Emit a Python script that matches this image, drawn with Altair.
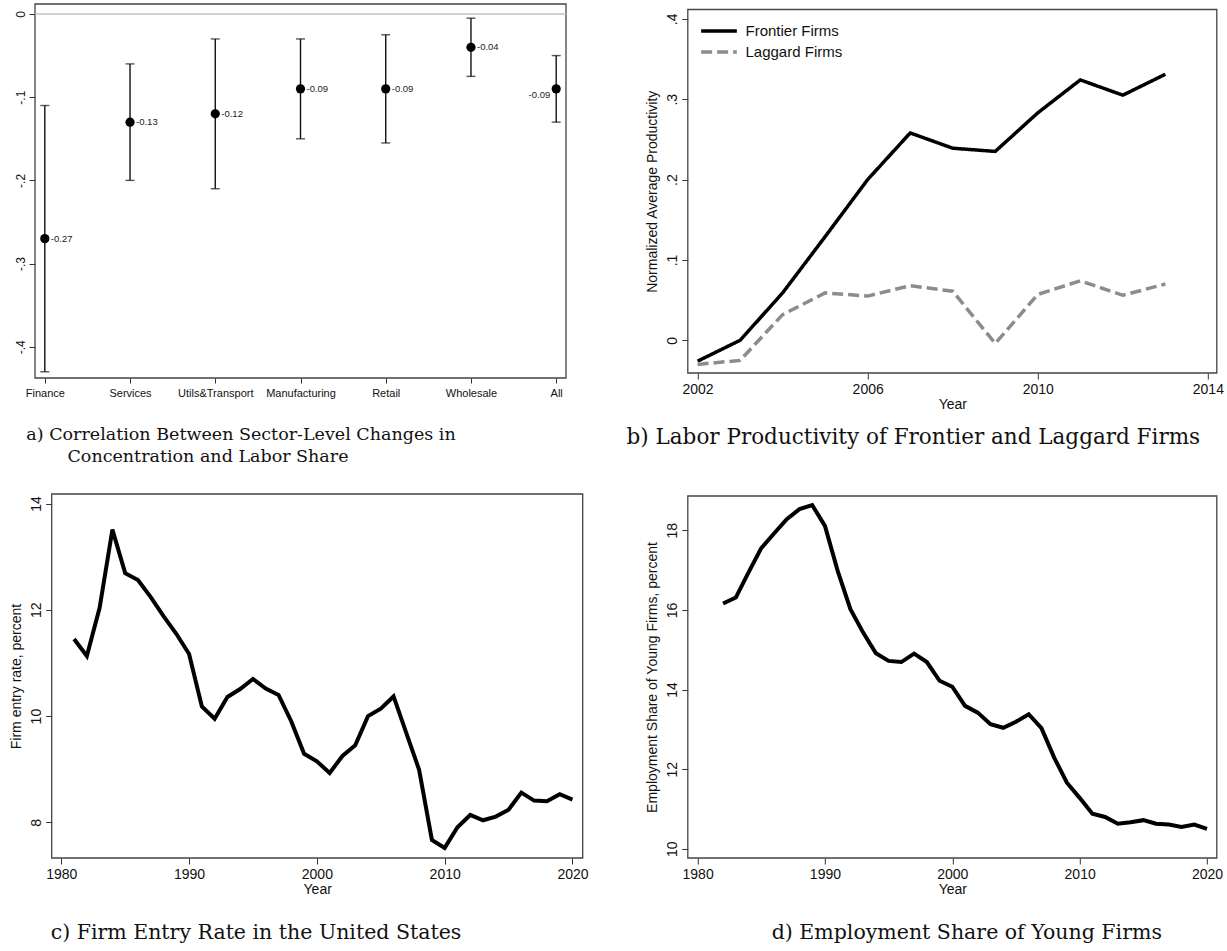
import altair as alt
import pandas as pd

# ---------------- a) sector-level correlations ----------------
sectors = ["Finance", "Services", "Utils&Transport", "Manufacturing", "Retail", "Wholesale", "All"]
coef = [-0.27, -0.13, -0.12, -0.09, -0.09, -0.04, -0.09]
ci_low = [-0.43, -0.20, -0.21, -0.15, -0.155, -0.075, -0.13]
ci_high = [-0.11, -0.06, -0.03, -0.03, -0.025, -0.005, -0.05]
label_side = ["right", "right", "right", "right", "right", "right", "left"]

# ---------------- b) labor productivity ----------------
prod_years = list(range(2002, 2014))
frontier = [-0.026, 0.0, 0.059, 0.129, 0.200, 0.258, 0.239, 0.235, 0.283, 0.324, 0.305, 0.331]
laggard = [-0.030, -0.025, 0.032, 0.059, 0.055, 0.068, 0.061, -0.004, 0.057, 0.074, 0.056, 0.070]
series_names = ["Frontier Firms", "Laggard Firms"]

# ---------------- c) firm entry rate ----------------
entry_years = list(range(1981, 2021))
entry_rate = [11.45, 11.13, 12.04, 13.51, 12.69, 12.56, 12.24, 11.88, 11.55, 11.17,
              10.18, 9.95, 10.36, 10.51, 10.70, 10.52, 10.40, 9.90, 9.29, 9.15,
              8.93, 9.25, 9.45, 10.00, 10.14, 10.37, 9.68, 8.99, 7.67, 7.52,
              7.91, 8.14, 8.04, 8.11, 8.24, 8.56, 8.41, 8.40, 8.53, 8.43]

# ---------------- d) employment share of young firms ----------------
young_years = list(range(1982, 2021))
young_share = [16.16, 16.31, 16.94, 17.55, 17.92, 18.28, 18.53, 18.63, 18.11,
               16.98, 16.02, 15.43, 14.91, 14.72, 14.69, 14.90, 14.69, 14.22, 14.07,
               13.59, 13.42, 13.13, 13.04, 13.19, 13.38, 13.03, 12.29, 11.66, 11.28,
               10.88, 10.80, 10.63, 10.67, 10.72, 10.63, 10.61, 10.55, 10.61, 10.50]

captions = {
    "a1": "a) Correlation Between Sector-Level Changes in",
    "a2": "Concentration and Labor Share",
    "b": "b) Labor Productivity of Frontier and Laggard Firms",
    "c": "c) Firm Entry Rate in the United States",
    "d": "d) Employment Share of Young Firms",
}

SANS = "Liberation Sans"
SERIF = "DejaVu Serif"
INK = "#111111"
FRAME = "#444444"
ONE = pd.DataFrame({"z": [0]})


def caption(text, cx, cy, size):
    return alt.Chart(pd.DataFrame({"t": [text]})).mark_text(
        align="center", baseline="middle", font=SERIF, fontSize=size, color=INK
    ).encode(text="t:N", x=alt.value(cx), y=alt.value(cy))


def frame(x0, x1, y0, y1):
    # plot-area border (Stata-style box around each panel)
    return alt.Chart(ONE).mark_rect(filled=False, stroke=FRAME, strokeWidth=1.3).encode(
        x=alt.value(x0), x2=alt.value(x1), y=alt.value(y0), y2=alt.value(y1))


def y_axis(values, title=None, expr=None, label_size=14, offset=0):
    kw = dict(values=values, labelAngle=-90, labelAlign="center", labelBaseline="bottom",
              labelFont=SANS, labelFontSize=label_size, labelColor=INK, labelPadding=2,
              tickSize=6, tickColor="#333", domain=False, grid=False, offset=offset)
    if expr:
        kw["labelExpr"] = expr
    if title:
        kw.update(title=title, titleFont=SANS, titleFontSize=14, titleFontWeight="normal",
                  titleColor=INK, titlePadding=6)
    else:
        kw["title"] = None
    return alt.Axis(**kw)


def x_axis_years(values, title="Year"):
    return alt.Axis(values=values, format="d", labelAngle=0, labelFont=SANS, labelFontSize=14,
                    labelColor=INK, labelPadding=3, tickSize=6, tickColor="#333", domain=False,
                    grid=False, title=title, titleFont=SANS, titleFontSize=14,
                    titleFontWeight="normal", titleColor=INK, titlePadding=1)


# ---------------- panel a ----------------
WA, HA = 531, 374
df_a = pd.DataFrame({"sector": sectors, "coef": coef, "lo": ci_low, "hi": ci_high, "side": label_side})
xa = alt.X("sector:N", sort=sectors, scale=alt.Scale(type="point", padding=0.115),
           axis=alt.Axis(title=None, labelAngle=0, labelFont=SANS, labelFontSize=11,
                         labelColor=INK, tickSize=5, tickColor="#333", labelPadding=4,
                         domain=False, grid=False))
ya_scale = alt.Scale(domain=[-0.4375, 0.012], nice=False, zero=False)
ya_axis = y_axis([0, -0.1, -0.2, -0.3, -0.4],
                 expr="datum.value == 0 ? '0' : '-.' + toString(round(-datum.value * 10))",
                 label_size=12)

zero_line = alt.Chart(pd.DataFrame({"v": [0]})).mark_rule(color="#c2c2c2", strokeWidth=1.3).encode(
    y=alt.Y("v:Q", scale=ya_scale, axis=ya_axis))
base_a = alt.Chart(df_a)
bars = base_a.mark_rule(color=INK, strokeWidth=1.4).encode(
    x=xa, y=alt.Y("lo:Q", scale=ya_scale, axis=ya_axis), y2="hi:Q")
cap_lo = base_a.mark_tick(color=INK, thickness=1.4, size=9).encode(
    x=xa, y=alt.Y("lo:Q", scale=ya_scale, axis=ya_axis))
cap_hi = base_a.mark_tick(color=INK, thickness=1.4, size=9).encode(
    x=xa, y=alt.Y("hi:Q", scale=ya_scale, axis=ya_axis))
dots = base_a.mark_circle(size=85, color="#000000", opacity=1).encode(
    x=xa, y=alt.Y("coef:Q", scale=ya_scale, axis=ya_axis))
lab_expr = "(datum.coef < 0 ? '-' : '') + format(abs(datum.coef), '.2f')"
labels_r = base_a.transform_filter("datum.side == 'right'").transform_calculate(
    lab=lab_expr).mark_text(align="left", baseline="middle", dx=6, font=SANS, fontSize=9.5,
                            color="#222").encode(
    x=xa, y=alt.Y("coef:Q", scale=ya_scale, axis=ya_axis), text="lab:N")
labels_l = base_a.transform_filter("datum.side == 'left'").transform_calculate(
    lab=lab_expr).mark_text(align="right", baseline="middle", dx=-6, dy=6, font=SANS, fontSize=9.5,
                            color="#222").encode(
    x=xa, y=alt.Y("coef:Q", scale=ya_scale, axis=ya_axis), text="lab:N")

panel_a = alt.layer(
    frame(0, WA, 0, HA), zero_line, bars, cap_lo, cap_hi, dots, labels_r, labels_l,
    caption(captions["a1"], 206, 431, 17.5), caption(captions["a2"], 173, 453, 17.5),
).properties(width=WA, height=HA)

# ---------------- panel b ----------------
WB, HB, TOP_B = 529, 369, 5.5
df_b = pd.DataFrame({
    "year": prod_years * 2,
    "value": frontier + laggard,
    "series": [series_names[0]] * len(prod_years) + [series_names[1]] * len(prod_years),
})
leg = alt.Legend(title=None, orient="none", legendX=671.5, legendY=14.5,
                 symbolType="M-1.7,0L1.7,0", symbolSize=441, symbolStrokeWidth=3.5,
                 labelFont=SANS, labelFontSize=15, labelColor=INK, labelOffset=14,
                 rowPadding=0, padding=0)
lines_b = alt.Chart(df_b).mark_line(strokeWidth=3.5).encode(
    x=alt.X("year:Q", scale=alt.Scale(domain=[2001.77, 2014.21], nice=False, zero=False),
            axis=x_axis_years([2002, 2006, 2010, 2014])),
    y=alt.Y("value:Q", scale=alt.Scale(domain=[-0.0407, 0.4116], nice=False, zero=False,
                                       range=[HB, TOP_B]),
            axis=y_axis([0, 0.1, 0.2, 0.3, 0.4], title="Normalized Average Productivity",
                        expr="datum.value == 0 ? '0' : '.' + toString(round(datum.value * 10))")),
    color=alt.Color("series:N", scale=alt.Scale(domain=series_names, range=["#000000", "#8c8c8c"]),
                    legend=leg),
    strokeDash=alt.StrokeDash("series:N", scale=alt.Scale(domain=series_names, range=[[1, 0], [11, 5]]),
                              legend=leg),
)
panel_b = alt.layer(
    frame(0, WB, TOP_B, HB), lines_b, caption(captions["b"], 225.5, 434, 21.5)
).properties(width=WB, height=HB)

# ---------------- panel c ----------------
WC, HC, LEFT_C = 547.7, 364, 16.7
df_c = pd.DataFrame({"year": entry_years, "rate": entry_rate})
line_c = alt.Chart(df_c).mark_line(color="#000000", strokeWidth=4).encode(
    x=alt.X("year:Q", scale=alt.Scale(domain=[1979.25, 2020.8], nice=False, zero=False,
                                      range=[LEFT_C, WC]),
            axis=x_axis_years([1980, 1990, 2000, 2010, 2020])),
    y=alt.Y("rate:Q", scale=alt.Scale(domain=[7.33, 14.18], nice=False, zero=False),
            axis=y_axis([8, 10, 12, 14], title="Firm entry rate, percent", offset=-LEFT_C)),
)
panel_c = alt.layer(
    frame(LEFT_C, WC, 0, HC), line_c, caption(captions["c"], 221, 439, 20.5)
).properties(width=WC, height=HC)

# ---------------- panel d ----------------
WD, HD, TOP_D = 529, 364, 2
df_d = pd.DataFrame({"year": young_years, "share": young_share})
line_d = alt.Chart(df_d).mark_line(color="#000000", strokeWidth=4).encode(
    x=alt.X("year:Q", scale=alt.Scale(domain=[1979.23, 2020.77], nice=False, zero=False),
            axis=x_axis_years([1980, 1990, 2000, 2010, 2020])),
    y=alt.Y("share:Q", scale=alt.Scale(domain=[9.77, 18.86], nice=False, zero=False,
                                       range=[HD, TOP_D]),
            axis=y_axis([10, 12, 14, 16, 18], title="Employment Share of Young Firms, percent")),
)
panel_d = alt.layer(
    frame(0, WD, TOP_D, HD), line_d, caption(captions["d"], 279, 439, 20.5)
).properties(width=WD, height=HD)

# ---------------- layout ----------------
chart = alt.concat(
    panel_a, panel_b, panel_c, panel_d,
    columns=2, bounds="flush",
    spacing=alt.RowColnumber(column=104.8, row=116),
).properties(
    padding={"left": 9, "top": 3, "right": 0, "bottom": 0},
    background="white",
).configure_view(strokeOpacity=0)

chart.save("out.html", embed_options={"renderer": "svg", "actions": False})
